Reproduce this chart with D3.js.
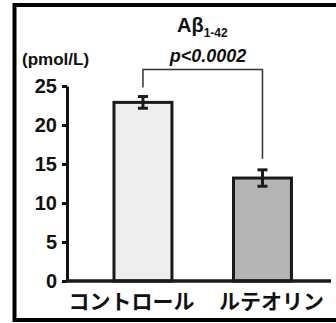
<!DOCTYPE html>
<meta charset="utf-8">
<style>
body { margin: 0; background: #fff; }
svg { display: block; }
.axis text { font: bold 20px "Liberation Sans", Arial, sans-serif; fill: #111; }
.cat { font: bold 21px "Noto Sans CJK JP", sans-serif; fill: #111; }
</style>
<body>
<script src="https://cdn.jsdelivr.net/npm/d3@7"></script>
<script>
// data
var groups = ["コントロール", "ルテオリン"];
var means = [22.9, 13.2];
var errors = [0.75, 1.05];
var fills = ["#eeeeee", "#b4b4b4"];
var yTicks = [0, 5, 10, 15, 20, 25];
var unit = "(pmol/L)";
var pText = "p<0.0002";

var width = 336, height = 323;

var svg = d3.select("body").append("svg")
    .attr("width", width)
    .attr("height", height);

// outer frame (right side runs off the picture)
svg.append("rect")
    .attr("x", 14.5).attr("y", 5)
    .attr("width", 340).attr("height", 315)
    .attr("fill", "none")
    .attr("stroke", "#000")
    .attr("stroke-width", 4);

var x = d3.scaleBand()
    .domain(groups)
    .range([67, 331])
    .paddingInner(0.515)
    .paddingOuter(0.362)
    .align(0.543);

var y = d3.scaleLinear()
    .domain([0, 25])
    .range([281, 86]);

// y axis
var yAxis = svg.append("g")
    .attr("class", "axis")
    .attr("transform", "translate(67,0)")
    .call(d3.axisLeft(y).tickValues(yTicks).tickSize(5).tickSizeOuter(0).tickPadding(5));
yAxis.select(".domain").attr("stroke", "#111").attr("stroke-width", 3);
yAxis.selectAll(".tick line").attr("stroke", "#111").attr("stroke-width", 3);

// bars
svg.selectAll(".bar")
    .data(groups)
  .enter().append("rect")
    .attr("class", "bar")
    .attr("x", function(d) { return x(d); })
    .attr("y", function(d, i) { return y(means[i]); })
    .attr("width", x.bandwidth())
    .attr("height", function(d, i) { return y(0) - y(means[i]); })
    .attr("fill", function(d, i) { return fills[i]; })
    .attr("stroke", "#1a1a1a")
    .attr("stroke-width", 3);

// baseline
svg.append("line")
    .attr("x1", 66).attr("x2", x.range()[1])
    .attr("y1", y(0)).attr("y2", y(0))
    .attr("stroke", "#1a1a1a")
    .attr("stroke-width", 3.5);

// error bars
var eb = svg.selectAll(".err")
    .data(groups)
  .enter().append("g")
    .attr("class", "err")
    .attr("stroke", "#1a1a1a")
    .attr("stroke-width", 3);
eb.append("line")
    .attr("x1", function(d) { return x(d) + x.bandwidth() / 2; })
    .attr("x2", function(d) { return x(d) + x.bandwidth() / 2; })
    .attr("y1", function(d, i) { return y(means[i] + errors[i]); })
    .attr("y2", function(d, i) { return y(means[i] - errors[i]); });
eb.append("line")
    .attr("x1", function(d) { return x(d) + x.bandwidth() / 2 - 5; })
    .attr("x2", function(d) { return x(d) + x.bandwidth() / 2 + 5; })
    .attr("y1", function(d, i) { return y(means[i] + errors[i]); })
    .attr("y2", function(d, i) { return y(means[i] + errors[i]); });
eb.append("line")
    .attr("x1", function(d) { return x(d) + x.bandwidth() / 2 - 5; })
    .attr("x2", function(d) { return x(d) + x.bandwidth() / 2 + 5; })
    .attr("y1", function(d, i) { return y(means[i] - errors[i]); })
    .attr("y2", function(d, i) { return y(means[i] - errors[i]); });

// significance bracket
var c0 = x(groups[0]) + x.bandwidth() / 2,
    c1 = x(groups[1]) + x.bandwidth() / 2,
    bracketY = y(27.1);
svg.append("path")
    .attr("d", "M" + c0 + "," + (y(means[0] + errors[0]) - 9) + "V" + bracketY +
               "H" + c1 + "V" + (y(means[1] + errors[1]) - 11))
    .attr("fill", "none")
    .attr("stroke", "#333")
    .attr("stroke-width", 1.5);

// labels
var title = svg.append("text")
    .attr("x", 177).attr("y", 32)
    .style("font", "bold 20px 'Liberation Sans', Arial, sans-serif")
    .attr("fill", "#111");
title.append("tspan").text("Aβ");
title.append("tspan").attr("dy", 5).style("font-size", "12px").text("1-42");

svg.append("text")
    .attr("x", 208).attr("y", 62)
    .attr("text-anchor", "middle")
    .style("font", "italic bold 18px 'Liberation Sans', Arial, sans-serif")
    .attr("fill", "#111")
    .text(pText);

svg.append("text")
    .attr("x", 22).attr("y", 65)
    .style("font", "bold 17px 'Liberation Sans', Arial, sans-serif")
    .attr("fill", "#111")
    .text(unit);

var labelShift = [-11.5, 9];
svg.selectAll(".cat")
    .data(groups)
  .enter().append("text")
    .attr("class", "cat")
    .attr("x", function(d, i) { return x(d) + x.bandwidth() / 2 + labelShift[i]; })
    .attr("y", 309)
    .attr("text-anchor", "middle")
    .text(function(d) { return d; });
</script>
